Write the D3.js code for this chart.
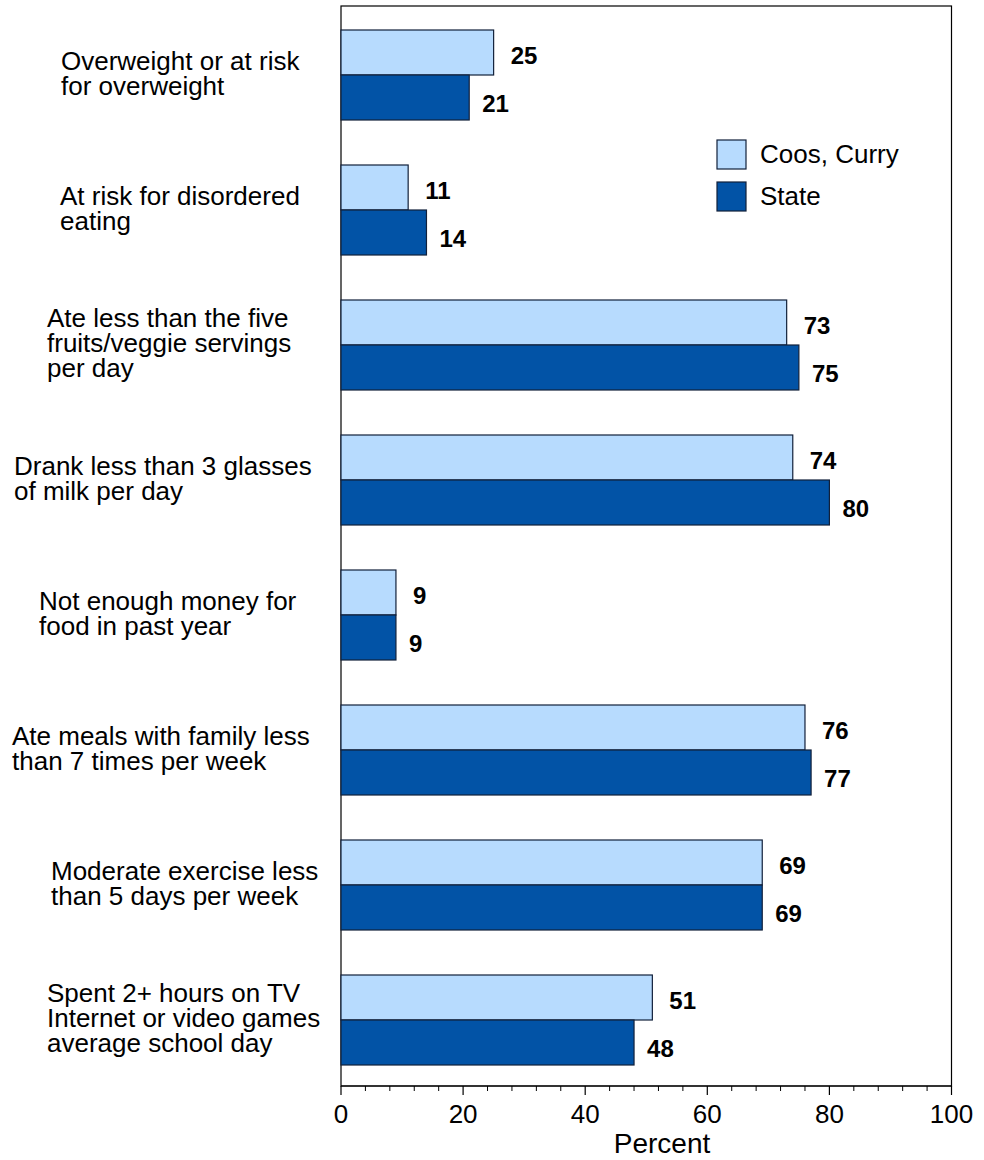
<!DOCTYPE html>
<html><head><meta charset="utf-8">
<script src="https://cdn.jsdelivr.net/npm/d3@7"></script>
<style>
html,body{margin:0;padding:0;background:#fff;}
svg{display:block;font-family:"Liberation Sans",Arial,sans-serif;}
</style></head>
<body>
<svg id="chart" width="984" height="1160"></svg>
<script>
// ---- data ----
const categories = [
  ["Overweight or at risk","for overweight"],
  ["At risk for disordered","eating"],
  ["Ate less than the five","fruits/veggie servings","per day"],
  ["Drank less than 3 glasses","of milk per day"],
  ["Not enough money for","food in past year"],
  ["Ate meals with family less","than 7 times per week"],
  ["Moderate exercise less","than 5 days per week"],
  ["Spent 2+ hours on TV","Internet or video games","average school day"]
];
const seriesNames = ["Coos, Curry", "State"];
const coosCurry = [25, 11, 73, 74, 9, 76, 69, 51];
const state     = [21, 14, 75, 80, 9, 77, 69, 48];
const xTicks = [0, 20, 40, 60, 80, 100];
const axisTitle = "Percent";

// ---- layout ----
const labelLeft = [61, 60, 47, 14, 39, 12, 51, 47];
const colors = ["#b7dbfe", "#0253a6"];
const stroke = "#12203a";
const plot = {left: 341, right: 951.5, top: 6, bottom: 1086};

const svg = d3.select("#chart");
const x = d3.scaleLinear().domain([0, 100]).range([plot.left, plot.right]);
const y = d3.scaleBand().domain(d3.range(categories.length))
  .range([plot.top + 1.5, plot.bottom + 1.5]).paddingInner(1/3).paddingOuter(1/6);
const sub = d3.scaleBand().domain([0, 1]).range([0, y.bandwidth()]);

const series = [coosCurry, state];

// frame
svg.append("rect").attr("x", plot.left).attr("y", plot.top)
  .attr("width", plot.right - plot.left).attr("height", plot.bottom - plot.top)
  .attr("fill", "none").attr("stroke", "#000").attr("stroke-width", 1.2);

// bars
series.forEach((vals, s) => {
  svg.append("g").selectAll("rect").data(vals).join("rect")
    .attr("x", x(0))
    .attr("y", (d, i) => y(i) + sub(s))
    .attr("width", d => x(d) - x(0))
    .attr("height", sub.bandwidth())
    .attr("fill", colors[s]).attr("stroke", stroke).attr("stroke-width", 1.2);
  svg.append("g").selectAll("text").data(vals).join("text")
    .attr("x", d => x(d) + (s === 0 ? 17 : 13))
    .attr("y", (d, i) => y(i) + sub(s) + sub.bandwidth() / 2 + (s === 0 ? 11 : 14))
    .attr("font-size", 24).attr("font-weight", "bold").attr("fill", "#000")
    .text(d => d);
});

// category labels
const catG = svg.append("g");
categories.forEach((lines, i) => {
  const cy = y(i) + y.bandwidth() / 2;
  const t = catG.append("text").attr("font-size", 26).attr("fill", "#000");
  lines.forEach((ln, j) => {
    t.append("tspan").attr("x", labelLeft[i])
      .attr("y", cy + 7 + (j - (lines.length - 1) / 2) * 25)
      .text(ln);
  });
});

// x axis ticks
const axisG = svg.append("g").attr("transform", `translate(0,${plot.bottom})`);
axisG.append("line").attr("x1", plot.left).attr("x2", plot.right)
  .attr("stroke", "#000").attr("stroke-width", 1.2);
const minor = d3.range(0, 101, 4).filter(v => !xTicks.includes(v));
axisG.selectAll("line.minor").data(minor).join("line").attr("class", "minor")
  .attr("x1", d => x(d)).attr("x2", d => x(d)).attr("y1", 0).attr("y2", 5)
  .attr("stroke", "#000").attr("stroke-width", 1);
axisG.selectAll("line.major").data(xTicks).join("line").attr("class", "major")
  .attr("x1", d => x(d)).attr("x2", d => x(d)).attr("y1", 0).attr("y2", 9)
  .attr("stroke", "#000").attr("stroke-width", 1.2);
axisG.selectAll("text").data(xTicks).join("text")
  .attr("x", d => x(d)).attr("y", 37).attr("text-anchor", "middle")
  .attr("font-size", 26).attr("fill", "#000").text(d => d);

svg.append("text").attr("x", 662).attr("y", 1153).attr("text-anchor", "middle")
  .attr("font-size", 28).attr("fill", "#000").text(axisTitle);

// legend
const leg = svg.append("g").attr("transform", "translate(717,140)");
seriesNames.forEach((n, i) => {
  leg.append("rect").attr("x", 0).attr("y", i * 42).attr("width", 29).attr("height", 29)
    .attr("fill", colors[i]).attr("stroke", stroke).attr("stroke-width", 1.2);
  leg.append("text").attr("x", 43).attr("y", i * 42 + 23)
    .attr("font-size", 26).attr("fill", "#000").text(n);
});
</script>
</body></html>
